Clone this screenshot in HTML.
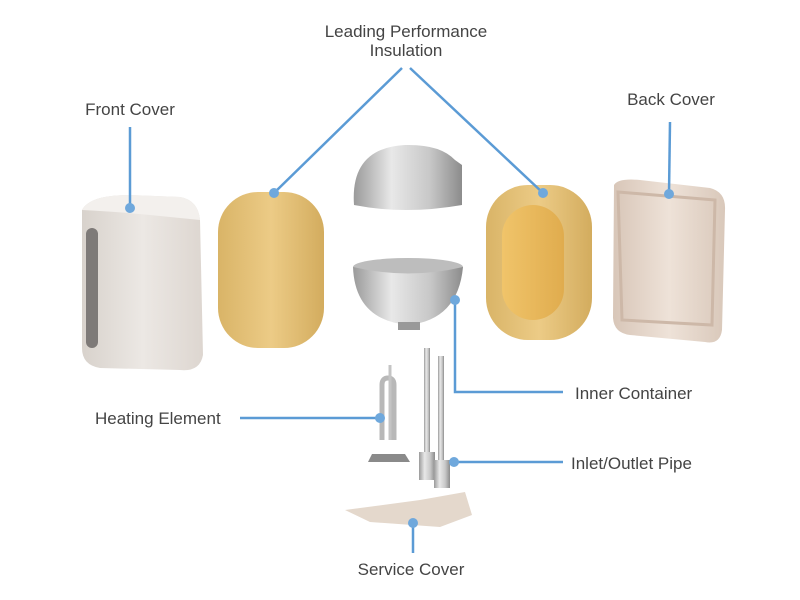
<!DOCTYPE html>
<html><head><meta charset="utf-8"><style>
body{margin:0;background:#fff;}
svg{display:block;font-family:"Liberation Sans",sans-serif;}
</style></head><body>
<svg width="800" height="600" viewBox="0 0 800 600">
<defs>
<linearGradient id="foam" x1="0" x2="1"><stop offset="0" stop-color="#d9b467"/><stop offset="0.5" stop-color="#eccb86"/><stop offset="1" stop-color="#d3ac5e"/></linearGradient>
<linearGradient id="foamIn" x1="0" x2="1"><stop offset="0" stop-color="#f0c46a"/><stop offset="1" stop-color="#e0ac4e"/></linearGradient>
<linearGradient id="metal" x1="0" x2="1"><stop offset="0" stop-color="#9a9a9a"/><stop offset="0.35" stop-color="#e8e8e8"/><stop offset="0.7" stop-color="#c8c8c8"/><stop offset="1" stop-color="#8c8c8c"/></linearGradient>
<linearGradient id="front" x1="0" x2="1"><stop offset="0" stop-color="#d8d2cc"/><stop offset="0.5" stop-color="#ece8e4"/><stop offset="1" stop-color="#ddd6d0"/></linearGradient>
<linearGradient id="back" x1="0" x2="1"><stop offset="0" stop-color="#d8c6b8"/><stop offset="0.5" stop-color="#eee2d8"/><stop offset="1" stop-color="#d9c8ba"/></linearGradient>
</defs>
<path d="M82,210 Q90,195 130,195 L180,197 Q198,200 200,220 L203,355 Q200,372 180,370 L100,368 Q82,365 82,348 Z" fill="url(#front)"/>
<path d="M82,210 Q90,195 130,195 L180,197 Q198,200 200,220 L150,215 Q120,212 82,210Z" fill="#f3f0ed"/>
<rect x="86" y="228" width="12" height="120" rx="6" fill="#7e7a78"/>
<rect x="218" y="192" width="106" height="156" rx="40" fill="url(#foam)"/>
<rect x="486" y="185" width="106" height="155" rx="42" fill="url(#foam)"/>
<rect x="502" y="205" width="62" height="115" rx="31" fill="url(#foamIn)"/>
<path d="M614,185 Q618,178 640,180 L710,188 Q726,192 725,210 L722,330 Q720,345 705,342 L630,335 Q614,333 613,318 Z" fill="url(#back)"/>
<path d="M618,192 L715,200 L712,325 L622,320 Z" fill="none" stroke="#cdb8a8" stroke-width="3"/>
<path d="M354,205 Q350,148 405,145 Q440,144 455,160 L462,165 L462,205 Q405,215 354,205Z" fill="url(#metal)"/>
<ellipse cx="408" cy="267" rx="55" ry="9" fill="#bdbdbd"/>
<path d="M353,267 Q355,320 408,325 Q458,320 463,267 Q408,280 353,267Z" fill="url(#metal)"/>
<rect x="398" y="322" width="22" height="8" fill="#999"/>
<path d="M382,440 L382,385 Q382,378 388,378 Q394,378 394,385 L394,440" fill="none" stroke="#b8b8b8" stroke-width="5"/>
<line x1="390" y1="365" x2="390" y2="440" stroke="#c4c4c4" stroke-width="3"/>
<path d="M368,462 L410,462 L405,454 L372,454Z" fill="#8a8a8a"/>
<rect x="424" y="348" width="6" height="105" fill="url(#metal)"/>
<rect x="438" y="356" width="6" height="105" fill="url(#metal)"/>
<rect x="419" y="452" width="16" height="28" fill="url(#metal)"/>
<rect x="434" y="460" width="16" height="28" fill="url(#metal)"/>
<path d="M345,510 L420,500 L465,492 L472,515 L440,527 L370,522Z" fill="#e4d8cc"/>
<g stroke="#5b9bd5" stroke-width="2.5" fill="none">
<line x1="130" y1="127" x2="130" y2="208"/>
<line x1="670" y1="122" x2="669" y2="194"/>
<line x1="402" y1="68" x2="274" y2="193"/>
<line x1="410" y1="68" x2="543" y2="193"/>
<polyline points="455,300 455,392 563,392"/>
<line x1="240" y1="418" x2="380" y2="418"/>
<line x1="454" y1="462" x2="563" y2="462"/>
<line x1="413" y1="523" x2="413" y2="553"/>
</g>
<g fill="#6fa8dc">
<circle cx="130" cy="208" r="5"/><circle cx="669" cy="194" r="5"/>
<circle cx="274" cy="193" r="5"/><circle cx="543" cy="193" r="5"/>
<circle cx="455" cy="300" r="5"/><circle cx="380" cy="418" r="5"/>
<circle cx="454" cy="462" r="5"/><circle cx="413" cy="523" r="5"/>
</g>
<g fill="#444" font-size="17">
<text x="406" y="37" text-anchor="middle">Leading Performance</text>
<text x="406" y="56" text-anchor="middle">Insulation</text>
<text x="130" y="115" text-anchor="middle">Front Cover</text>
<text x="671" y="105" text-anchor="middle">Back Cover</text>
<text x="575" y="399">Inner Container</text>
<text x="95" y="424">Heating Element</text>
<text x="571" y="469">Inlet/Outlet Pipe</text>
<text x="411" y="575" text-anchor="middle">Service Cover</text>
</g>
</svg>
</body></html>
